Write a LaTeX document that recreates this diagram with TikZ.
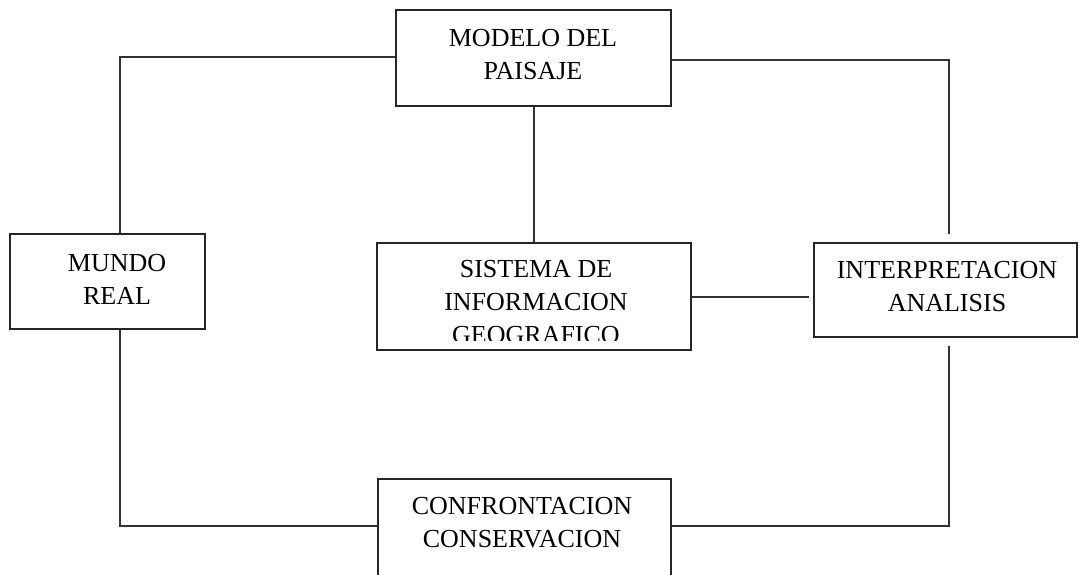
\documentclass[tikz,border=0pt]{standalone}
\usepackage{fontspec}
\setmainfont{Liberation Serif}
\begin{document}
\begin{tikzpicture}[x=1pt,y=-1pt,
  box/.style={draw=black!85, line width=2pt, minimum width=#1, inner sep=0pt},
  lbl/.style={align=center, font=\fontsize{26}{33}\selectfont, inner sep=0pt, text=black},
  wire/.style={draw=black!80, line width=2pt}]
\useasboundingbox (0,0) rectangle (1079,574);
\clip (0,0) rectangle (1079,574);
% boxes
\node[box=275pt, minimum height=96pt] (modelo) at (533.5,58) {};
\node[box=195pt, minimum height=95pt] (mundo) at (107.5,281.5) {};
\node[box=314pt, minimum height=107pt] (sig) at (534,296.5) {};
\node[box=263pt, minimum height=94pt] (interp) at (945.5,290) {};
\node[box=293pt, minimum height=106pt] (conf) at (524.5,532) {};
% texts
\node[lbl] (modeloT) at (533,55) {MODELO DEL\\PAISAJE};
\node[lbl] (mundoT) at (117,279) {MUNDO\\REAL};
\begin{scope}
\clip (378,244) rectangle (690,340);
\node[lbl] (sigT) at (536,302.5) {SISTEMA DE\\INFORMACION\\GEOGRAFICO};
\end{scope}
\node[lbl] (interpT) at (947,286.5) {INTERPRETACION\\ANALISIS};
\node[lbl] (confT) at (522,522.5) {CONFRONTACION\\CONSERVACION};
% connectors
\path[wire] ([yshift=1pt]modelo.west) -| ([xshift=12.5pt]mundo.north);
\path[wire] ([xshift=12.5pt]mundo.south) |- ([yshift=6pt]conf.west);
\path[wire, shorten >=8pt] ([yshift=-2pt]modelo.east) -| ([xshift=3.5pt]interp.north);
\path[wire, shorten <=8pt] ([xshift=3.5pt]interp.south) |- ([yshift=6pt]conf.east);
\path[wire] (modelo.south) -- (modelo.south |- sig.north);
\path[wire, shorten >=4pt] (sig.east) -- (sig.east -| interp.west);
\end{tikzpicture}
\end{document}
